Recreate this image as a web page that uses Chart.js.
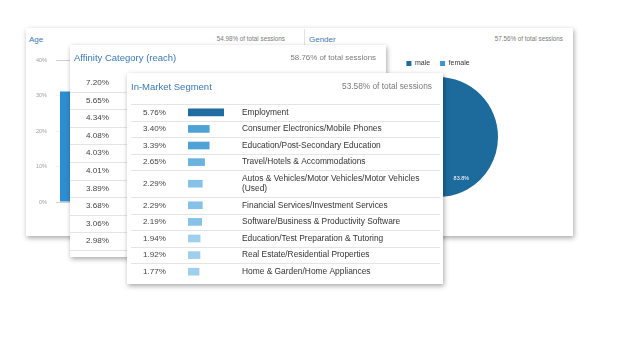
<!DOCTYPE html>
<html><head><meta charset="utf-8">
<script src="https://cdn.jsdelivr.net/npm/chart.js@4.4.1/dist/chart.umd.min.js"></script>
<style>
html,body{margin:0;padding:0;background:#fff;width:638px;height:359px;overflow:hidden;font-family:"Liberation Sans",Arial,sans-serif;}
.layer{position:absolute;left:0;top:0;width:638px;height:359px;}
.panel{position:absolute;background:#fff;box-shadow:1px 2px 5px rgba(0,0,0,0.35);}
.t{position:absolute;white-space:nowrap;line-height:12px;height:12px;}
.title{color:#3a78b6;}
.sub{color:#7a7a7a;}
canvas{position:absolute;}
</style></head><body>

<div class="layer" style="z-index:1">
  <div class="panel" style="left:26px;top:28px;width:547px;height:208px;"></div>
  <div class="t title" style="left:29px;top:34px;font-size:8px;">Age</div>
  <div class="t sub" id="ageSub" style="right:353px;top:33px;font-size:6.3px;"></div>
  <div style="position:absolute;left:304px;top:29px;width:1px;height:17px;background:#e3e3e3;"></div>
  <div class="t title" style="left:309px;top:34px;font-size:8px;">Gender</div>
  <div class="t sub" id="genderSub" style="right:75px;top:33px;font-size:6.3px;"></div>
  <canvas id="ageChart" width="278" height="170" style="left:26px;top:46px;width:278px;height:170px;"></canvas>
  <canvas id="genderChart" width="266" height="158" style="left:305px;top:47px;width:266px;height:158px;"></canvas>
</div>

<div class="layer" style="z-index:2">
  <div class="panel" style="left:70px;top:45px;width:316px;height:212px;"></div>
  <div class="t title" style="left:74px;top:52px;font-size:9.5px;">Affinity Category (reach)</div>
  <div class="t sub" id="affSub" style="right:262px;top:51.5px;font-size:7.9px;"></div>
  <canvas id="affChart" width="316" height="236" style="left:70px;top:44px;width:316px;height:236px;"></canvas>
</div>

<div class="layer" style="z-index:3">
  <div class="panel" style="left:127px;top:73px;width:316px;height:211px;"></div>
  <div class="t title" style="left:131px;top:81px;font-size:9.5px;">In-Market Segment</div>
  <div class="t sub" id="imSub" style="right:206px;top:79.5px;font-size:8.3px;"></div>
  <canvas id="imChart" width="309" height="236" style="left:131px;top:74px;width:309px;height:236px;"></canvas>
</div>

<script>
// ---- data ----
const ageLabels = ['18-24', '25-34', '35-44', '45-54', '55-64', '65+'];
const ageValues = [31.1, null, null, null, null, null];   // only the first bar is visible
const ageTicks = [0, 10, 20, 30, 40];
const ageShare = 54.98;

const genderLabels = ['male', 'female'];
const genderValues = [83.8, 16.2];
const genderShare = 57.56;

const affinityValues = [7.20, 5.65, 4.34, 4.08, 4.03, 4.01, 3.89, 3.68, 3.06, 2.98];
const affinityShare = 58.76;

const inMarketNames = [
  'Employment',
  'Consumer Electronics/Mobile Phones',
  'Education/Post-Secondary Education',
  'Travel/Hotels & Accommodations',
  'Autos & Vehicles/Motor Vehicles/Motor Vehicles (Used)',
  'Financial Services/Investment Services',
  'Software/Business & Productivity Software',
  'Education/Test Preparation & Tutoring',
  'Real Estate/Residential Properties',
  'Home & Garden/Home Appliances'
];
const inMarketValues = [5.76, 3.40, 3.39, 2.65, 2.29, 2.29, 2.19, 1.94, 1.92, 1.77];
const inMarketShare = 53.58;

// ---- helpers ----
const FONT = '"Liberation Sans", Arial, sans-serif';
Chart.defaults.font.family = FONT;
const pct2 = v => v.toFixed(2) + '%';
document.getElementById('ageSub').textContent = pct2(ageShare) + ' of total sessions';
document.getElementById('genderSub').textContent = pct2(genderShare) + ' of total sessions';
document.getElementById('affSub').textContent = pct2(affinityShare) + ' of total sessions';
document.getElementById('imSub').textContent = pct2(inMarketShare) + ' of total sessions';

function wrapLabel(s, max) {
  if (s.length <= max) return s;
  const cut = s.lastIndexOf(' ', max);
  return [s.slice(0, cut), s.slice(cut + 1)];
}
function barColor(v) {
  if (v >= 5) return '#1f6ca1';
  if (v >= 3) return '#4ea2d6';
  if (v >= 2.5) return '#6bb2df';
  if (v >= 2.1) return '#86c2e7';
  return '#9ecfec';
}

// table rows: a wrapped (two-line) label makes its row taller, like an HTML table
const imLabels = inMarketNames.map(s => wrapLabel(s, 48));
const imUnits = imLabels.map(l => Array.isArray(l) ? 1.6 : 1);
const imStarts = [];
imUnits.reduce((acc, u) => { imStarts.push(acc); return acc + u; }, 0);
const imTotal = imUnits.reduce((a, b) => a + b, 0);
const imCenters = imStarts.map((s, i) => s + imUnits[i] / 2);

const rowLines = {
  id: 'rowLines',
  beforeDatasetsDraw(chart, args, opts) {
    const ys = chart.scales.y;
    const c = chart.ctx;
    c.save();
    c.strokeStyle = opts.color;
    c.lineWidth = 1;
    opts.bounds().forEach(b => {
      const y = Math.round(ys.getPixelForValue(b)) + 0.5;
      c.beginPath();
      c.moveTo(0, y);
      c.lineTo(chart.width, y);
      c.stroke();
    });
    c.restore();
  }
};

const pieLabels = {
  id: 'pieLabels',
  afterDatasetsDraw(chart) {
    const meta = chart.getDatasetMeta(0);
    const c = chart.ctx;
    c.save();
    c.fillStyle = '#ffffff';
    c.font = '5.5px ' + FONT;
    c.textAlign = 'center';
    c.textBaseline = 'middle';
    meta.data.forEach((arc, i) => {
      const p = arc.getProps(['x', 'y', 'startAngle', 'endAngle', 'outerRadius'], true);
      const mid = (p.startAngle + p.endAngle) / 2;
      const r = p.outerRadius * 0.8;
      c.fillText(genderValues[i].toFixed(1) + '%', p.x + Math.cos(mid) * r, p.y + Math.sin(mid) * r);
    });
    c.restore();
  }
};

const common = { responsive: false, animation: false, events: [] };

// ---- Age ----
new Chart(document.getElementById('ageChart'), {
  type: 'bar',
  data: {
    labels: ageLabels,
    datasets: [{ data: ageValues, backgroundColor: '#2d8ecf', categoryPercentage: 1, barPercentage: 0.8 }]
  },
  options: Object.assign({}, common, {
    layout: { padding: { top: 14, bottom: 14, left: 0, right: 8 } },
    plugins: { legend: { display: false }, tooltip: { enabled: false } },
    scales: {
      x: { display: false },
      y: {
        min: ageTicks[0], max: ageTicks[ageTicks.length - 1],
        afterBuildTicks: s => { s.ticks = ageTicks.map(v => ({ value: v })); },
        ticks: { padding: 9, color: '#a0a0a0', font: { size: 5.5 }, callback: v => v + '%' },
        grid: { drawTicks: false, color: ctx => (ctx.tick && (ctx.tick.value === 0 || ctx.tick.value === 40)) ? '#d0d0d0' : '#f3f3f3' },
        border: { display: false },
        afterFit: s => { s.width = 30; }
      }
    }
  })
});

// ---- Gender ----
new Chart(document.getElementById('genderChart'), {
  type: 'pie',
  data: {
    labels: genderLabels,
    datasets: [{ data: genderValues, backgroundColor: ['#1d6a9d', '#3b94d0'], borderWidth: 0 }]
  },
  options: Object.assign({}, common, {
    layout: { padding: { top: 3, bottom: 8, left: 0, right: 0 } },
    plugins: {
      tooltip: { enabled: false },
      legend: {
        position: 'top',
        labels: { boxWidth: 5, boxHeight: 5, padding: 10, color: '#333', font: { size: 7 } }
      }
    }
  }),
  plugins: [pieLabels]
});

// ---- Affinity Category ----
new Chart(document.getElementById('affChart'), {
  type: 'bar',
  data: {
    labels: affinityValues.map(pct2),
    datasets: [{ data: affinityValues, backgroundColor: affinityValues.map(barColor), categoryPercentage: 1, barPercentage: 0.4 }]
  },
  options: Object.assign({}, common, {
    indexAxis: 'y',
    layout: { padding: { top: 30, bottom: 30, left: 0, right: 220 } },
    plugins: {
      legend: { display: false }, tooltip: { enabled: false },
      rowLines: { color: '#e4e4e4', bounds: () => affinityValues.map((v, i) => i + 0.5) }
    },
    scales: {
      x: { display: false, min: 0, max: Math.max(...affinityValues) },
      y: {
        offset: true,
        grid: { display: false, drawTicks: false },
        border: { display: false },
        ticks: { autoSkip: false, padding: 21, color: '#444', font: { size: 8.1 } },
        afterFit: s => { s.width = 60; }
      }
    }
  }),
  plugins: [rowLines]
});

// ---- In-Market Segment ----
const rowAxis = (position, padding, color, size, label) => ({
  type: 'linear',
  position: position,
  offset: false,
  min: 0, max: imTotal, reverse: true,
  afterBuildTicks: s => { s.ticks = imCenters.map(v => ({ value: v })); },
  grid: { display: false, drawTicks: false, offset: false },
  border: { display: false },
  ticks: { autoSkip: false, padding: padding, color: color, font: { size: size, lineHeight: 1.1 }, callback: (v, i) => label(i) }
});
new Chart(document.getElementById('imChart'), {
  type: 'bar',
  data: {
    datasets: [{
      data: inMarketValues.map((v, i) => ({ x: v, y: imCenters[i] })),
      backgroundColor: inMarketValues.map(barColor),
      barThickness: 7
    }]
  },
  options: Object.assign({}, common, {
    indexAxis: 'y',
    layout: { padding: { top: 30, bottom: 30, left: 0, right: 0 } },
    plugins: {
      legend: { display: false }, tooltip: { enabled: false },
      rowLines: { color: '#e4e4e4', bounds: () => imStarts }
    },
    scales: {
      x: { display: false, min: 0, max: Math.max(...inMarketValues) },
      y: Object.assign(rowAxis('left', 22, '#444', 8.1, i => pct2(inMarketValues[i])), { afterFit: s => { s.width = 57; } }),
      y2: Object.assign(rowAxis('right', 18, '#333', 8.4, i => imLabels[i]), { axis: 'y', afterFit: s => { s.width = 216; } })
    }
  }),
  plugins: [rowLines]
});
</script>
</body></html>
